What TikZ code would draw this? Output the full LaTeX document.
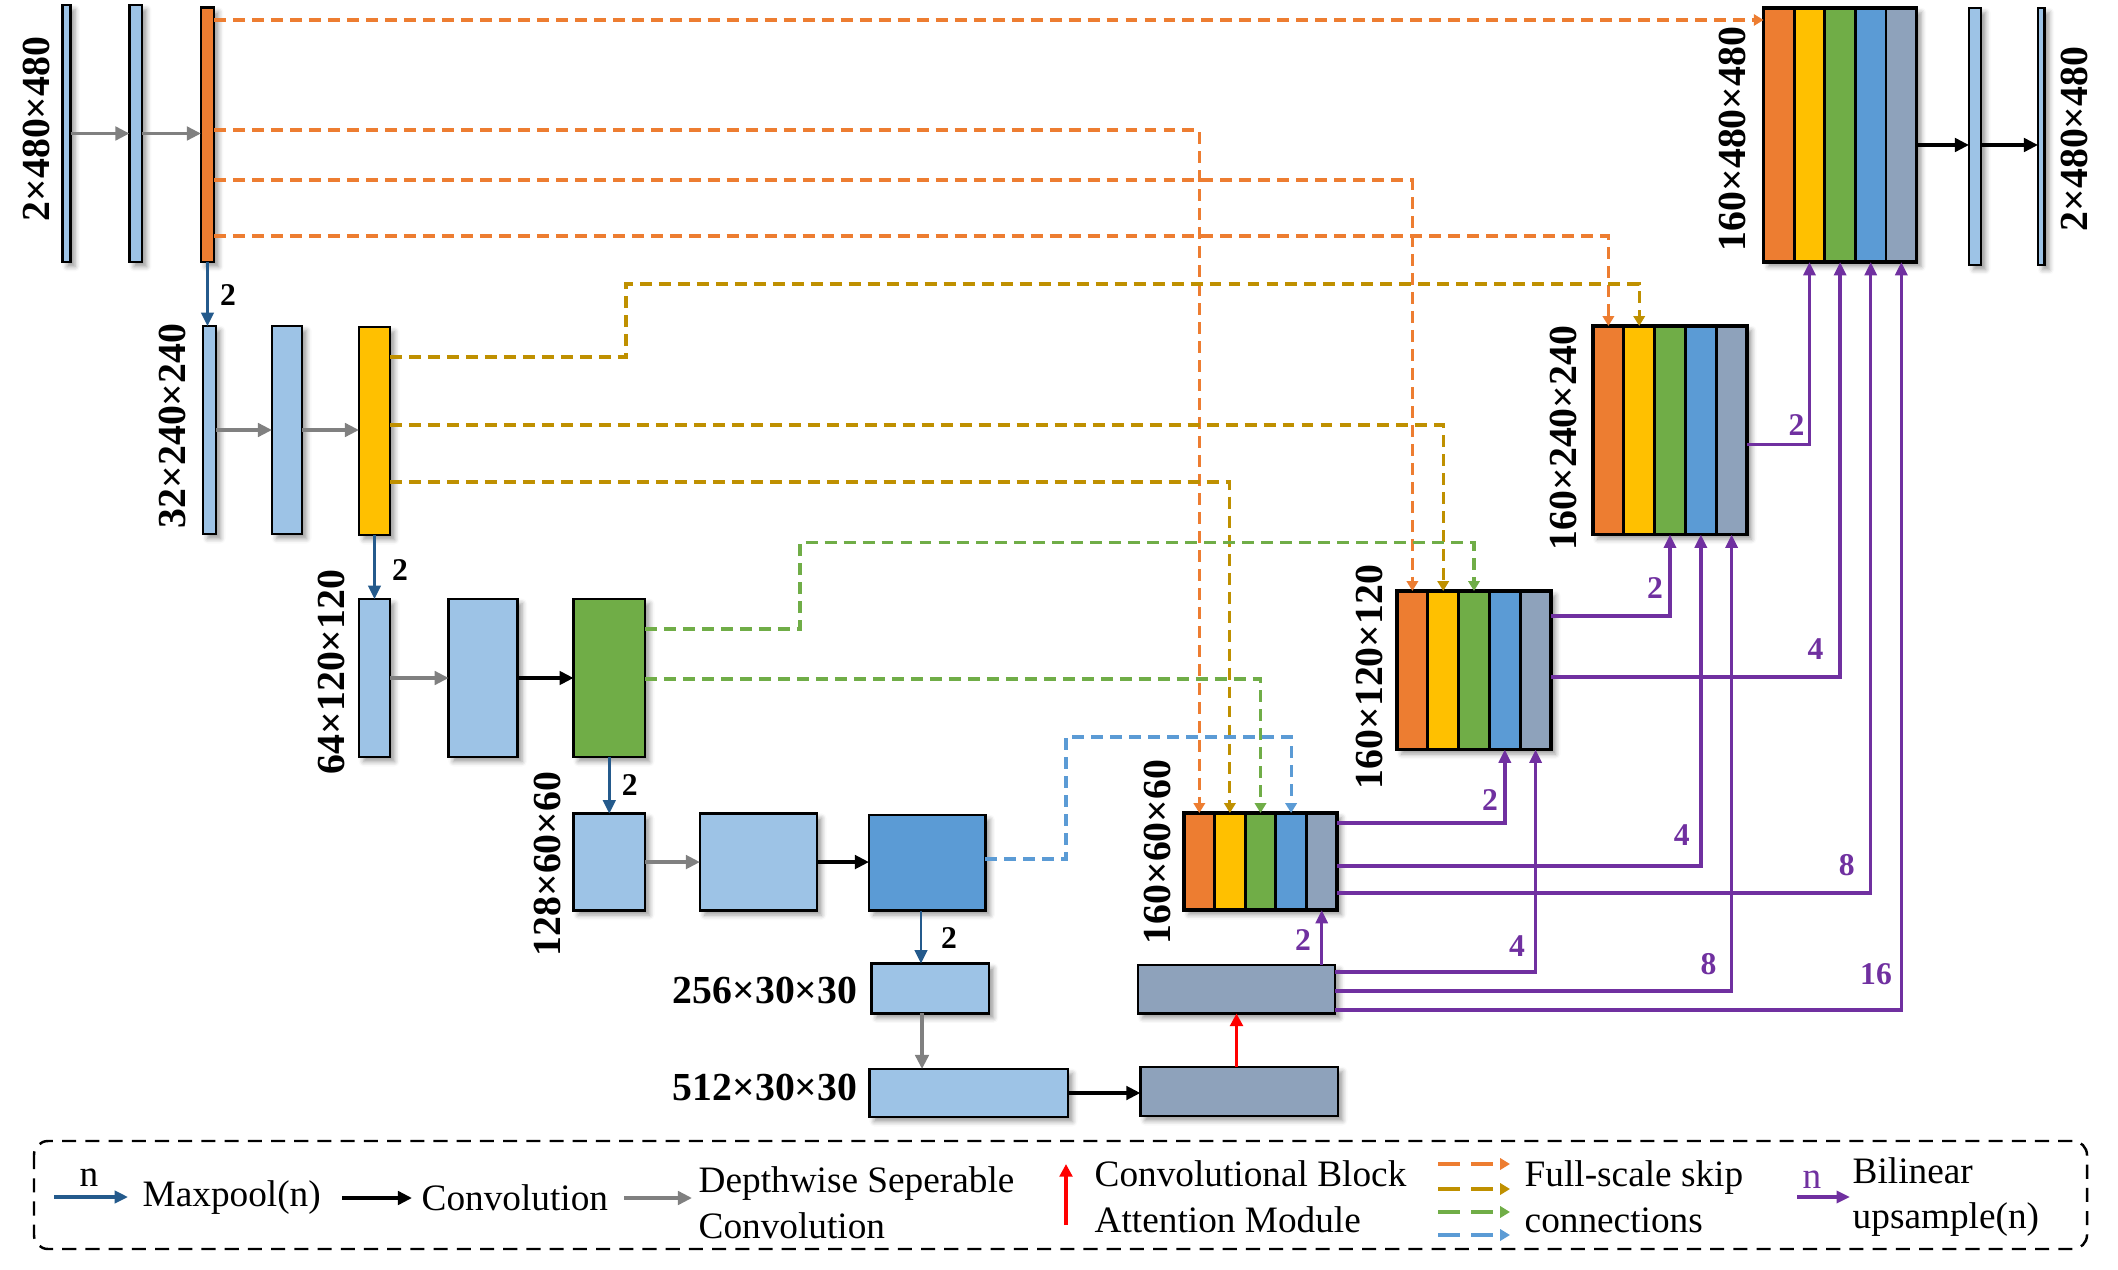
\documentclass[tikz,border=0pt]{standalone}
\usepackage{fontspec}
\setmainfont{Liberation Serif}
\usetikzlibrary{arrows.meta,shadows.blur}
\definecolor{lb}{HTML}{9DC3E6}
\definecolor{og}{HTML}{ED7D31}
\definecolor{yl}{HTML}{FFC000}
\definecolor{gn}{HTML}{70AD47}
\definecolor{bl}{HTML}{5B9BD5}
\definecolor{gb}{HTML}{8EA2BB}
\definecolor{mp}{HTML}{245A8C}
\definecolor{dy}{HTML}{BF9000}
\definecolor{pu}{HTML}{7030A0}
\newcommand{\mkblk}[6]{\node[blk,fill=#6,minimum width={(#4-#2)*0.01cm},minimum height={(#5-#3)*0.01cm}] (#1) at ({(#2+#4)/2},{(#3+#5)/2}) {};}
\newcommand{\mkcat}[5]{%
 \node[blk,fill=white,minimum width={5*#3*0.01cm},minimum height={(#5-#4)*0.01cm}] (#1) at ({#2+2.5*#3},{(#4+#5)/2}) {};
 \foreach \c [count=\i] in {og,yl,gn,bl,gb}{\node[stripe,fill=\c,minimum width={#3*0.01cm},minimum height={(#5-#4)*0.01cm}] (#1\i) at ({#2+(\i-0.5)*#3},{(#4+#5)/2}) {};}
 \draw[line width=0.9pt] (#1.north west) rectangle (#1.south east);
}
\tikzset{
 blk/.style={draw=black,line width=0.8pt,inner sep=0pt,outer sep=0pt,
   blur shadow={shadow xshift=1.3pt,shadow yshift=-1.3pt,shadow blur radius=1.4pt,shadow opacity=40}},
 stripe/.style={draw=black,line width=0.8pt,inner sep=0pt,outer sep=0pt},
 dimlab/.style={font=\bfseries\fontsize{11.3}{13}\selectfont,rotate=90,inner sep=0pt},
 hdimlab/.style={font=\bfseries\fontsize{11.3}{13}\selectfont,inner sep=0pt,anchor=east},
 numlab/.style={font=\bfseries\fontsize{9}{10}\selectfont,inner sep=0pt},
 mpool/.style={draw=mp,line width=0.8pt,-{Triangle[length=3.8pt,width=3.5pt]}},
 dsc/.style={draw=gray,line width=1pt,-{Triangle[length=4pt,width=3.8pt]}},
 conv/.style={draw=black,line width=1pt,-{Triangle[length=4pt,width=3.8pt]}},
 cbam/.style={draw=red,line width=1pt,-{Triangle[length=3.6pt,width=3.6pt]}},
 ups/.style={draw=pu,line width=1pt,-{Triangle[length=3.8pt,width=3.4pt]}},
 skip/.style={line width=0.9pt,dash pattern=on 3.4pt off 2pt,-{Triangle[length=2.8pt,width=3.2pt]}},
 legtext/.style={font=\fontsize{10.6}{13}\selectfont,inner sep=0pt,anchor=west,align=left},
}
\begin{document}
\begin{tikzpicture}[x=0.01cm,y=-0.01cm]
\useasboundingbox (0,0) rectangle (2118,1270);
% ---------- encoder ----------
\mkblk{e1a}{62.5}{5}{70.5}{262}{lb}
\mkblk{e1b}{129.5}{5}{142}{262}{lb}
\mkblk{e1c}{201}{7.5}{214}{262}{og}
\mkblk{e2a}{203}{326}{216}{534}{lb}
\mkblk{e2b}{272}{326}{302}{534}{lb}
\mkblk{e2c}{359}{327}{390}{535}{yl}
\mkblk{e3a}{359}{599}{390}{757}{lb}
\mkblk{e3b}{448.7}{599}{517.5}{757}{lb}
\mkblk{e3c}{573.6}{599}{645}{757}{gn}
\mkblk{e4a}{573.6}{813.6}{645}{910.5}{lb}
\mkblk{e4b}{700}{813.6}{817}{910.5}{lb}
\mkblk{e4c}{869}{815}{985.4}{910.5}{bl}
\mkblk{b1}{871.7}{963.6}{988.9}{1013.4}{lb}
\mkblk{b2}{869.6}{1069}{1068}{1117}{lb}
\mkblk{b3}{1140.4}{1067}{1338}{1116}{gb}
\mkblk{b4}{1138}{965}{1335}{1013.4}{gb}
% ---------- decoder ----------
\mkcat{d60}{1184}{30.6}{813}{910}
\mkcat{d120}{1397}{30.8}{591}{749.5}
\mkcat{d240}{1593}{30.8}{326}{534.5}
\mkcat{d480}{1763.6}{30.6}{8}{262}
\mkblk{o1}{1969}{8}{1981}{265}{lb}
\mkblk{o2}{2038}{8}{2044.6}{265}{lb}
% ---------- labels ----------
\node[dimlab] (l1) at (36,129) {2×480×480};
\node[dimlab] (l2) at (172,426) {32×240×240};
\node[dimlab] (l3) at (331.6,672) {64×120×120};
\node[dimlab] (l4) at (547,864) {128×60×60};
\node[dimlab] (l5) at (1157,852) {160×60×60};
\node[dimlab] (l6) at (1369,677) {160×120×120};
\node[dimlab] (l7) at (1563.6,438) {160×240×240};
\node[dimlab] (l8) at (1732,139) {160×480×480};
\node[dimlab] (l9) at (2074,139) {2×480×480};
\node[hdimlab] (l10) at (858,990) {256×30×30};
\node[hdimlab] (l11) at (858,1087) {512×30×30};
% ---------- encoder arrows ----------
\draw[dsc] (e1a.east) -- (e1b.west);
\draw[dsc] (e1b.east) -- (e1c.west |- e1b.east);
\draw[dsc] (e2a.east) -- (e2b.west);
\draw[dsc] (e2b.east) -- (e2c.west |- e2b.east);
\draw[dsc] (e3a.east) -- (e3b.west);
\draw[conv] (e3b.east) -- (e3c.west);
\draw[dsc] (e4a.east) -- (e4b.west);
\draw[conv] (e4b.east) -- (e4c.west |- e4b.east);
\draw[mpool] (e1c.south) -- (e1c.south |- e2a.north);
\draw[mpool] (e2c.south) -- (e2c.south |- e3a.north);
\draw[mpool] (e3c.south) -- (e3c.south |- e4a.north);
\draw[mpool] (e4c.south -| 921,0) -- (b1.north -| 921,0);
\node[numlab] (m1) at (228,295) {2};
\node[numlab] (m2) at (400,570) {2};
\node[numlab] (m3) at (629.7,785) {2};
\node[numlab] (m4) at (949,938) {2};
\draw[dsc] (b1.south -| 922,0) -- (b2.north -| 922,0);
\draw[conv] (b2.east) -- (b3.west |- b2.east);
\draw[cbam] (b3.north -| 1236.5,0) -- (b4.south -| 1236.5,0);
% ---------- output arrows ----------
\draw[conv] (d480.east |- 0,145) -- (o1.west |- 0,145);
\draw[conv] (o1.east |- 0,145) -- (o2.west |- 0,145);
% ---------- skip connections ----------
\coordinate (ky) at (626,284);
\coordinate (kg) at (800,542.7);
\coordinate (kb) at (1066,737);
\draw[skip,og] (e1c.east |- 0,20) -- (d480.west |- 0,20);
\draw[skip,og] (e1c.east |- 0,130) -| (d601.north);
\draw[skip,og] (e1c.east |- 0,180) -| (d1201.north);
\draw[skip,og] (e1c.east |- 0,236) -| (d2401.north);
\draw[skip,dy] (e2c.east |- 0,357) -| (ky) -| (d2402.north);
\draw[skip,dy] (e2c.east |- 0,425) -| (d1202.north);
\draw[skip,dy] (e2c.east |- 0,482) -| (d602.north);
\draw[skip,gn] (e3c.east |- 0,629) -| (kg) -| (d1203.north);
\draw[skip,gn] (e3c.east |- 0,679) -| (d603.north);
\draw[skip,bl] (e4c.east |- 0,859) -| (kb) -| (d604.north);
% ---------- upsampling ----------
\draw[ups] (b4.north -| d605.south) -- (d605.south);
\draw[ups] (b4.east |- 0,972) -| (d1205.south);
\draw[ups] (b4.east |- 0,991) -| (d2405.south);
\draw[ups] (b4.east |- 0,1010) -| (d4805.south);
\draw[ups] (d60.east |- 0,823) -| (d1204.south);
\draw[ups] (d60.east |- 0,866) -| (d2404.south);
\draw[ups] (d60.east |- 0,893) -| (d4804.south);
\draw[ups] (d120.east |- 0,616) -| (d2403.south);
\draw[ups] (d120.east |- 0,677) -| (d4803.south);
\draw[ups] (d240.east |- 0,444.6) -| (d4802.south);
\begin{scope}[every node/.style={numlab,text=pu}]
\node (u1) at (1303,940) {2};
\node (u2) at (1517,946) {4};
\node (u3) at (1708.5,964) {8};
\node (u4) at (1876,974) {16};
\node (u5) at (1490,800) {2};
\node (u6) at (1681.7,835) {4};
\node (u7) at (1846.8,865) {8};
\node (u8) at (1655,588) {2};
\node (u9) at (1815.6,649) {4};
\node (u10) at (1796.6,425) {2};
\end{scope}
% ---------- legend ----------
\draw[line width=0.7pt,dash pattern=on 4pt off 2.6pt,rounded corners=4pt] (34,1141) rectangle (2087,1249);
\coordinate (g1a) at (54,1197); \coordinate (g1b) at (128,1197);
\draw[mpool,line width=0.9pt] (g1a) -- (g1b);
\node[legtext,anchor=center] (gn1) at (89,1178) {n};
\node[legtext] (gt1) at (142,1198) {Maxpool(n)};
\coordinate (g2a) at (342,1198); \coordinate (g2b) at (412,1198);
\draw[conv] (g2a) -- (g2b);
\node[legtext] (gt2) at (421,1198) {Convolution};
\coordinate (g3a) at (624,1198); \coordinate (g3b) at (692,1198);
\draw[dsc] (g3a) -- (g3b);
\node[legtext] (gt3) at (698,1203) {Depthwise Seperable\\Convolution};
\coordinate (g4a) at (1066,1225); \coordinate (g4b) at (1066,1164);
\draw[cbam] (g4a) -- (g4b);
\node[legtext] (gt4) at (1094,1197) {Convolutional Block\\Attention Module};
\coordinate (g5a) at (1438,1164); \coordinate (g5b) at (1510,1164);
\coordinate (g6a) at (1438,1189); \coordinate (g6b) at (1510,1189);
\coordinate (g7a) at (1438,1212); \coordinate (g7b) at (1510,1212);
\coordinate (g8a) at (1438,1235); \coordinate (g8b) at (1510,1235);
\begin{scope}[every path/.style={skip,dash pattern=on 6.2pt off 3.2pt,line width=1.1pt}]
\draw[og] (g5a) -- (g5b);
\draw[dy] (g6a) -- (g6b);
\draw[gn] (g7a) -- (g7b);
\draw[bl] (g8a) -- (g8b);
\end{scope}
\node[legtext] (gt5) at (1524,1197) {Full-scale skip\\connections};
\coordinate (g9a) at (1797,1197); \coordinate (g9b) at (1850,1197);
\draw[ups,line width=1.3pt] (g9a) -- (g9b);
\node[legtext,anchor=center,text=pu] (gn2) at (1812,1180) {n};
\node[legtext] (gt6) at (1852,1197) {Bilinear\\upsample(n)};
\end{tikzpicture}
\end{document}
